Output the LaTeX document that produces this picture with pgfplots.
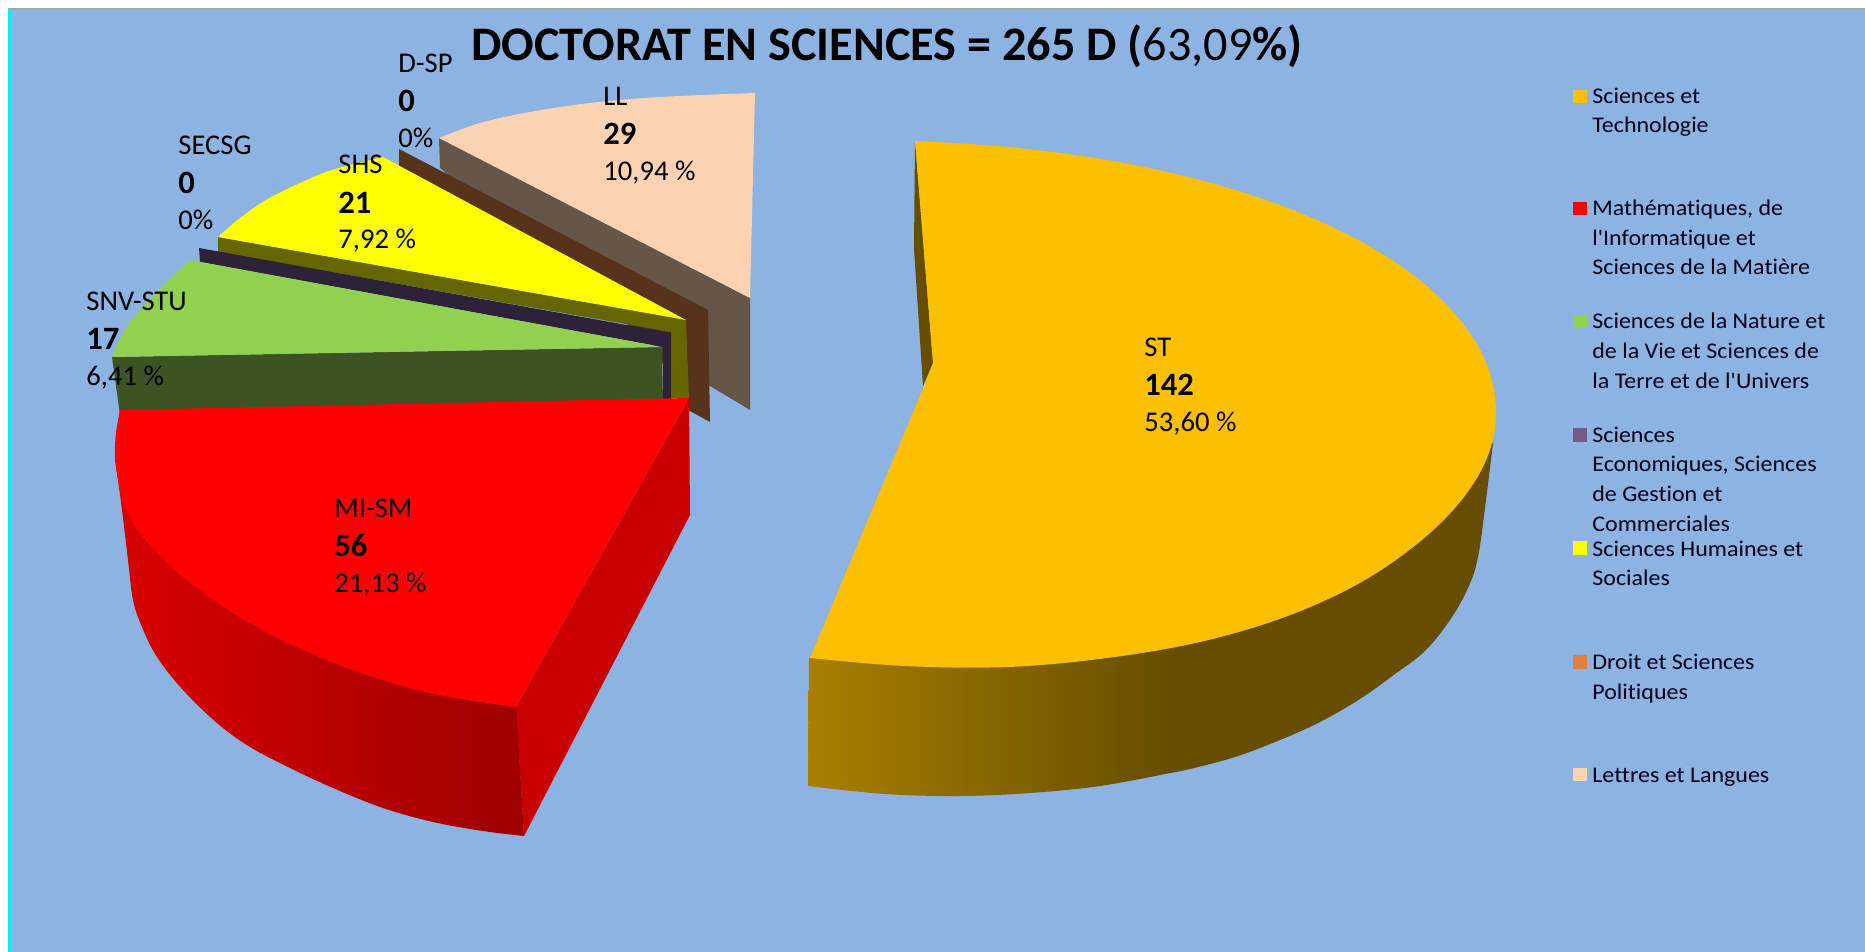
\documentclass[border=0pt]{standalone}
\usepackage{fontspec}
\setmainfont{Carlito}[Ligatures=NoCommon]
\newfontfamily\legfont{Carlito}[Ligatures=NoCommon,FakeStretch=1.07]
\usepackage{pgfplots}
\pgfplotsset{compat=1.18}
\definecolor{bgc}{HTML}{8DB3E2}
\definecolor{cyanbar}{HTML}{00F0F0}
\definecolor{cST}{HTML}{FDC000}
\definecolor{cMI}{HTML}{FF0000}
\definecolor{cSNV}{HTML}{92D050}
\definecolor{cSHS}{HTML}{FFFF00}
\definecolor{cLL}{HTML}{FBD2B2}
\definecolor{cSEC}{HTML}{775A8D}
\definecolor{cDSP}{HTML}{E08040}
\definecolor{wLL}{HTML}{66564A}
\definecolor{wDSP}{HTML}{56331A}
\definecolor{wSHS}{HTML}{666600}
\definecolor{wSEC}{HTML}{2E2238}
\definecolor{wSNV}{HTML}{3D5323}
\definecolor{wMIa}{HTML}{D80000}
\definecolor{wMIb}{HTML}{9E0000}
\definecolor{wMIc}{HTML}{C80000}
\definecolor{wSTa}{HTML}{A87F00}
\definecolor{wSTb}{HTML}{664D00}
\newcommand{\lab}[3]{%
 \node[anchor=base west,inner sep=0pt] at (axis cs:#1,#2) {\fontsize{14.3}{17}\selectfont #3};}
\newcommand{\labb}[3]{%
 \node[anchor=base west,inner sep=0pt] at (axis cs:#1,#2) {\fontsize{16.3}{19}\selectfont\bfseries #3};}
\newcommand{\leg}[3]{%
 \node[anchor=base west,inner sep=0pt,text=black!90!blue] at (axis cs:#1,#2) {\legfont\fontsize{11.2}{14}\selectfont #3};}
\begin{document}
\begin{tikzpicture}
\begin{axis}[
  scale only axis, width=932.5pt, height=476pt,
  xmin=0, xmax=1865, ymin=0, ymax=952, y dir=reverse,
  hide axis, no markers, clip=true, tension=0.6]
% page, frame
\addplot[fill=white,draw=none] coordinates {(0,0)(1865,0)(1865,952)(0,952)} --cycle;
\addplot[fill=gray!70,draw=none] coordinates {(8,8)(1865,8)(1865,10)(8,10)} --cycle;
\addplot[fill=cyanbar,draw=none] coordinates {(8,9)(11,9)(11,952)(8,952)} --cycle;
\addplot[fill=bgc,draw=none] coordinates {(11,10)(1865,10)(1865,952)(11,952)} --cycle;
% LL
\addplot[fill=wLL,draw=none] coordinates {(439,138)(750,298)(750,410)(700,380)(600,300)(440,168)} --cycle;
\addplot[fill=cLL,draw=none,smooth] coordinates {(439,138)(480,123)(530,112)(590,103)(660,97)(755,93)} -- (axis cs:750,298) -- cycle;
% D-SP
\addplot[fill=wDSP,draw=none] coordinates {(399,149)(708,310)(710,422)(688,410)(650,340)(399,167)} --cycle;
% SHS
\addplot[fill=wSHS,draw=none] coordinates {(218,237)(686,320)(689,398)(671,398)(671,332)(218,252)} --cycle;
\addplot[fill=cSHS,draw=none,smooth] coordinates {(218,237)(240,218)(266,200)(298,184)(332,170)(383,157)} -- (axis cs:686,320) -- cycle;
% SECSG
\addplot[fill=wSEC,draw=none] coordinates {(199,248)(671,333)(671,400)(663,400)(663,347)(200,262)} --cycle;
% SNV
\addplot[fill=wSNV,draw=none] coordinates {(112,357)(662,347)(663,405)(120,415)} --cycle;
\addplot[fill=cSNV,draw=none,smooth] coordinates {(112,357)(119,341)(128,325)(140,310)(153,296)(170,279)(190,260)} -- (axis cs:662,347) -- cycle;
% MI-SM
\addplot[fill=wMIc,draw=none] coordinates {(689,398)(690,515)(524,836)(516,707)} --cycle;
\addplot[shade,left color=wMIa,right color=wMIb,draw=none,smooth] coordinates {(115,457)(122,510)(128,560)(133,600)(142,627)(157,657)(183,690)(217,723)(250,747)(290,768)(333,788)(383,808)(433,822)(483,831)(524,836)} -- (axis cs:516,700) -- (axis cs:200,500) -- cycle;
\addplot[fill=cMI,draw=none,smooth] coordinates {(120,410)(116,433)(115,457)(118,480)(124,505)(140,533)(167,563)(200,590)(233,613)(270,634)(317,656)(367,675)(417,690)(467,700)(516,707)} -- (axis cs:689,398) -- cycle;
% ST
\addplot[fill=wSTb,draw=none] coordinates {(915,141)(933,363)(923,386)(914,249)} --cycle;
\addplot[fill=wSTb,draw=none,smooth] coordinates {(1493,443)(1486,500)(1478,557)(1468,588)(1450,620)(1425,651)(1395,674)(1360,699)(1320,722)(1280,740)(1235,757)(1190,769)(1170,773)} -- (axis cs:1170,630) -- cycle;
\addplot[shade,left color=wSTa,right color=wSTb,draw=none,smooth] coordinates {(1170,773)(1100,786)(1030,793)(960,796)(885,794)(808,786)} -- (axis cs:809,658) -- (axis cs:1170,630) -- cycle;
\addplot[fill=cST,draw=none,smooth] coordinates {(915,141)(1008,147)(1107,160)(1200,180)(1285,207)(1358,240)(1417,278)(1460,320)(1487,365)(1496,413)(1487,458)(1460,502)(1417,544)(1358,584)(1285,617)(1200,642)(1107,658)(1008,667)(905,666)(810,658)} -- (axis cs:924,386) -- (axis cs:933,363) -- cycle;
% legend swatches
\addplot[fill=cST,draw=none] coordinates {(1573,90)(1587,90)(1587,103)(1573,103)} --cycle;
\addplot[fill=cMI,draw=none] coordinates {(1573,202)(1587,202)(1587,215)(1573,215)} --cycle;
\addplot[fill=cSNV,draw=none] coordinates {(1573,315)(1587,315)(1587,328)(1573,328)} --cycle;
\addplot[fill=cSEC,draw=none] coordinates {(1573,428)(1587,428)(1587,442)(1573,442)} --cycle;
\addplot[fill=cSHS,draw=none] coordinates {(1573,541)(1587,541)(1587,555)(1573,555)} --cycle;
\addplot[fill=cDSP,draw=none] coordinates {(1573,655)(1587,655)(1587,669)(1573,669)} --cycle;
\addplot[fill=cLL,draw=none] coordinates {(1573,768)(1587,768)(1587,781)(1573,781)} --cycle;
% title
\node[anchor=base,inner sep=0pt] at (axis cs:887,61) {\fontsize{24.1}{28}\selectfont\textbf{DOCTORAT EN SCIENCES = 265 D (}63,09\textbf{\%)}};
% data labels
\lab{1144}{357}{ST}\labb{1144}{395}{142}\lab{1144}{431}{53,60 \%}
\lab{334}{517}{MI-SM}\labb{334}{556}{56}\lab{334}{592}{21,13 \%}
\lab{86}{311}{SNV-STU}\labb{86}{350}{17}\lab{86}{386}{6,41 \%}
\lab{178}{155}{SECSG}\labb{178}{194}{0}\lab{178}{230}{0\%}
\lab{338}{174}{SHS}\labb{338}{214}{21}\lab{338}{249}{7,92 \%}
\lab{398}{73}{D-SP}\labb{398}{112}{0}\lab{398}{148}{0\%}
\lab{603}{106}{LL}\labb{603}{145}{29}\lab{603}{181}{10,94 \%}
% legend texts
\leg{1592}{104}{Sciences et}\leg{1592}{133}{Technologie}
\leg{1592}{216}{Mathématiques, de}\leg{1592}{246}{l'Informatique et}\leg{1592}{275}{Sciences de la Matière}
\leg{1592}{329}{Sciences de la Nature et}\leg{1592}{359}{de la Vie et Sciences de}\leg{1592}{389}{la Terre et de l'Univers}
\leg{1592}{443}{Sciences}\leg{1592}{472}{Economiques, Sciences}\leg{1592}{502}{de Gestion et}\leg{1592}{531}{Commerciales}
\leg{1592}{556}{Sciences Humaines et}\leg{1592}{585}{Sociales}
\leg{1592}{669}{Droit et Sciences}\leg{1592}{699}{Politiques}
\leg{1592}{782}{Lettres et Langues}
\end{axis}
\end{tikzpicture}
\end{document}
